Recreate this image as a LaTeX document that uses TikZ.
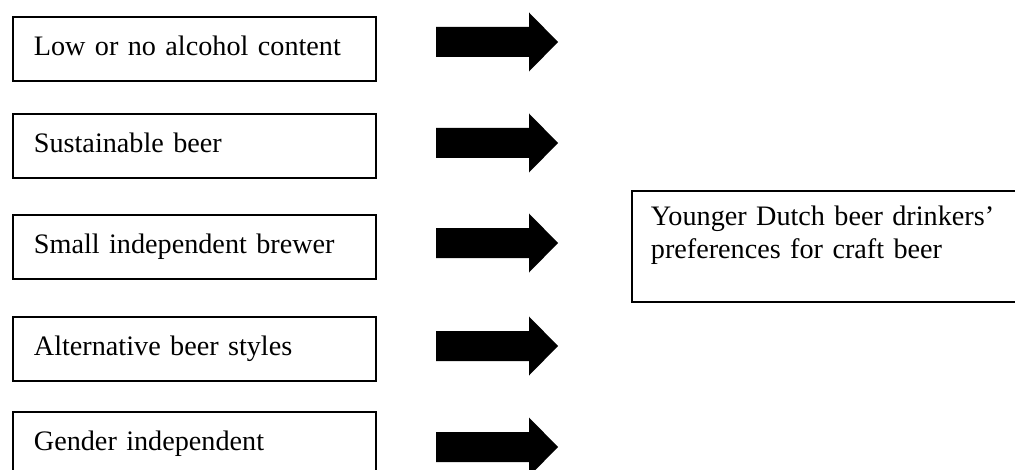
\documentclass[tikz,border=0pt]{standalone}
\usepackage{fontspec}
\setmainfont{Liberation Serif}

\begin{document}
\begin{tikzpicture}[x=0.5pt, y=-0.5pt,
        factor/.style={draw, line width=0.9pt, anchor=north west, align=left,
            text width=160.5pt, inner xsep=10.5pt, inner ysep=0pt,
            text height=19.5pt, text depth=12.5pt},
        outcome/.style={draw, line width=0.9pt, anchor=north west, align=left,
            text width=180.5pt, inner xsep=9.5pt, inner ysep=0pt,
            text height=17.5pt, text depth=38pt},
        font=\fontsize{14.1pt}{16.5pt}\selectfont]
            \useasboundingbox (0, 0) rectangle (1015, 470);
            \clip (0, 0) rectangle (1015, 470);

            \node [factor] (F1) at (12, 16) {Low or no alcohol content};
            \node [factor] (F2) at (12, 113) {Sustainable beer};
            \node [factor] (F3) at (12, 214) {Small independent brewer};
            \node [factor] (F4) at (12, 316) {Alternative beer styles};
            \node [factor] (F5) at (12, 411) {Gender independent};

            \node [outcome] (Y) at (631, 190) {Younger Dutch beer drinkers’\\preferences for craft beer};

            \foreach \y [count=\i] in {42, 143, 243, 346, 447} {
                \coordinate (A\i) at (436, \y);
                \fill (A\i) ++(0, -15) -- ++(93, 0) -- ++(0, -14.5) -- ++(29, 29.5)
                    -- ++(-29, 29.5) -- ++(0, -14.5) -- ++(-93, 0) -- cycle;
            }
        \end{tikzpicture}
\end{document}
